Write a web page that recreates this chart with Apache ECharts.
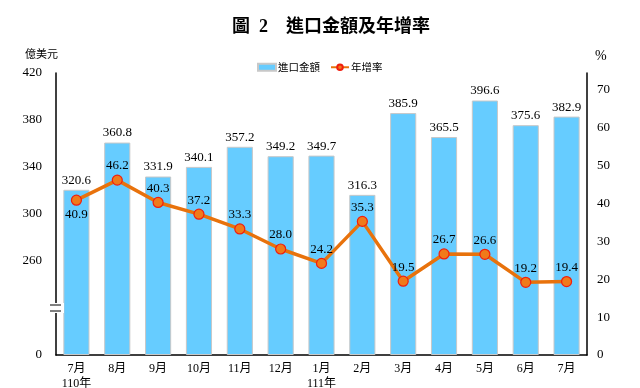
<!DOCTYPE html>
<html><head><meta charset="utf-8">
<script src="https://cdn.jsdelivr.net/npm/echarts@6/dist/echarts.min.js"></script>
<style>html,body{margin:0;padding:0;background:#fff}#c{width:640px;height:388px}</style>
</head><body><div id="c"></div>
<script>
var categories = ['7月\n110年','8月','9月','10月','11月','12月','1月\n111年','2月','3月','4月','5月','6月','7月'];
var importValues = [320.6,360.8,331.9,340.1,357.2,349.2,349.7,316.3,385.9,365.5,396.6,375.6,382.9];
var growthRates = [40.9,46.2,40.3,37.2,33.3,28.0,24.2,35.3,19.5,26.7,26.6,19.2,19.4];
var growthLabelPos = ['bottom','top','top','top','top','top','top','top','top','top','top','top','top'];
var leftTickLabels = {0:'0',40:'',80:'260',120:'300',160:'340',200:'380',240:'420'};
var rightTickLabels = ['0','10','20','30','40','50','60','70'];
var BASE = 180; // axis break: values below 220 are collapsed

var SERIF = '"Liberation Serif","Times New Roman","Noto Sans CJK TC",serif';
var chart = echarts.init(document.getElementById('c'));
chart.setOption({
  animation:false,
  textStyle:{fontFamily:SERIF},
  title:{text:'圖  2    進口金額及年增率',left:326,textAlign:'center',top:13,
    textStyle:{fontFamily:'"Liberation Serif","Noto Sans CJK TC",serif',fontSize:18,fontWeight:'bold',color:'#000'}},
  legend:{top:57,left:252,itemWidth:18,itemHeight:7,itemGap:10,
    textStyle:{fontFamily:'"Noto Sans CJK TC",serif',fontSize:10.5,color:'#000',padding:[0,0,0,-3]},
    data:[{name:'進口金額',icon:'rect'},{name:'年增率'}]},
  grid:{left:56,right:53,top:73,bottom:33,containLabel:false,outerBoundsMode:'none'},
  xAxis:{type:'category',data:categories,
    axisLine:{lineStyle:{color:'#000',width:1.5}},
    axisTick:{inside:true,length:4,lineStyle:{color:'#000'}},
    axisLabel:{fontSize:12,color:'#000',margin:6,lineHeight:15,fontFamily:SERIF}},
  yAxis:[
    {type:'value',min:0,max:240,interval:40,name:'億美元',nameLocation:'end',
     nameGap:14,nameTextStyle:{fontFamily:'"Noto Sans CJK TC",serif',fontSize:11,color:'#000',align:'right',padding:[0,-2,0,0]},
     axisLine:{show:true,lineStyle:{color:'#000',width:1.5}},axisTick:{show:false},splitLine:{show:false},
     axisLabel:{fontSize:13,color:'#000',margin:14,formatter:function(v){return leftTickLabels[v]!==undefined?leftTickLabels[v]:'';}}},
    {type:'value',min:0,max:74.5,interval:10,name:'%',nameGap:10,
     nameTextStyle:{fontSize:14,color:'#000',align:'left',padding:[0,0,0,8]},
     axisLine:{show:true,lineStyle:{color:'#000',width:1.5}},axisTick:{show:false},splitLine:{show:false},
     axisLabel:{fontSize:13,color:'#000',margin:10,
       formatter:function(v){var i=rightTickLabels.indexOf(String(v));return i>=0?rightTickLabels[i]:'';}}}
  ],
  series:[
    {name:'進口金額',type:'bar',yAxisIndex:0,barWidth:'64%',
     data:importValues.map(function(v){return v-BASE;}),
     itemStyle:{color:'#66CCFF',borderColor:'#C8C8C8',borderWidth:1},
     label:{show:true,position:'top',distance:3,fontSize:13,color:'#000',fontFamily:SERIF,
       formatter:function(p){return importValues[p.dataIndex].toFixed(1);}}},
    {name:'年增率',type:'line',yAxisIndex:1,
     data:growthRates.map(function(v,i){return {value:v,label:{position:growthLabelPos[i]}};}),
     symbol:'circle',symbolSize:10,
     lineStyle:{color:'#E8720C',width:3.5},
     itemStyle:{color:'#F07A1A',borderColor:'#F01E0E',borderWidth:1.2},
     label:{show:true,distance:2,fontSize:13,color:'#000',fontFamily:SERIF,
       formatter:function(p){return p.value.toFixed(1);}}}
  ]
});
var x0 = chart.convertToPixel({xAxisIndex:0},0) - (chart.convertToPixel({xAxisIndex:0},1)-chart.convertToPixel({xAxisIndex:0},0))/2;
var yb = chart.convertToPixel({yAxisIndex:0},40);
chart.setOption({graphic:[
  {type:'rect',shape:{x:x0-8,y:yb-5,width:16,height:10},style:{fill:'#fff'},z:100},
  {type:'line',shape:{x1:x0-6,y1:yb-3,x2:x0+5,y2:yb-3},style:{stroke:'#000',lineWidth:1},z:101},
  {type:'line',shape:{x1:x0-6,y1:yb+3,x2:x0+5,y2:yb+3},style:{stroke:'#000',lineWidth:1},z:101}
]});
</script></body></html>
